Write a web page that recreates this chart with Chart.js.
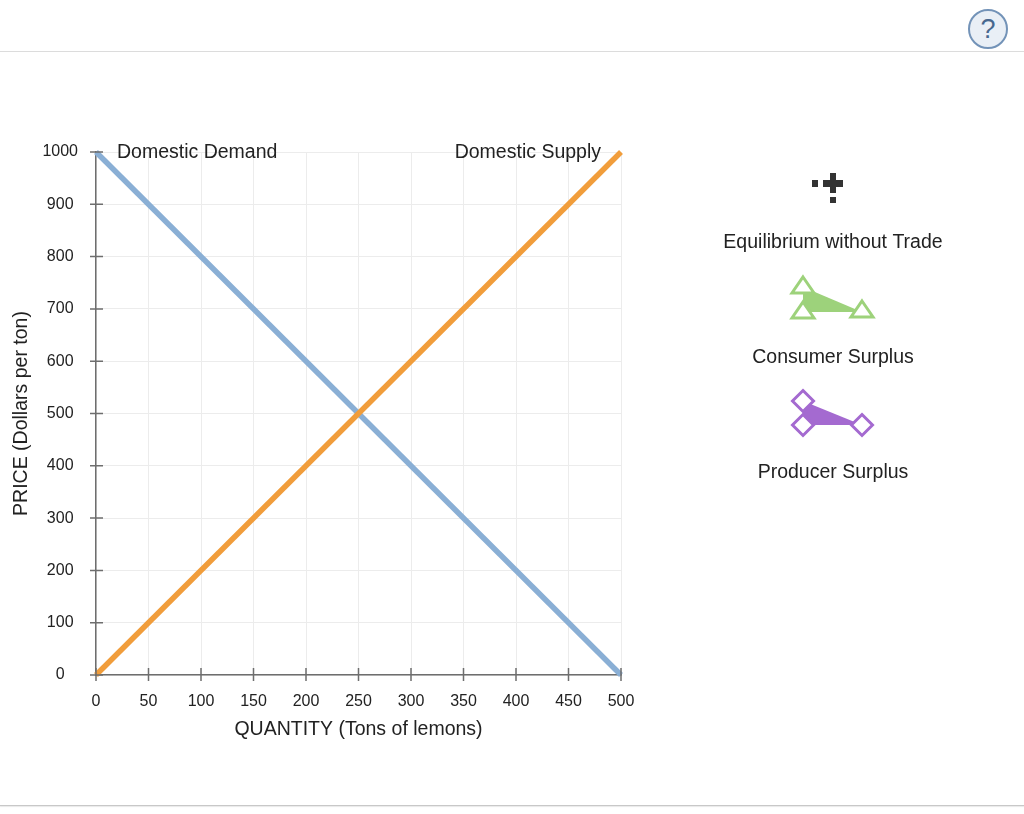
<!DOCTYPE html>
<html>
<head>
<meta charset="utf-8">
<script src="https://cdn.jsdelivr.net/npm/chart.js@4"></script>
<style>
  html, body { margin: 0; padding: 0; background: #fff; }
  body { width: 1024px; height: 814px; position: relative; overflow: hidden; font-family: "Liberation Sans", Arial, Helvetica, sans-serif; }
  #topLine { position: absolute; left: 0; top: 51px; width: 1024px; height: 1px; background: #dcdcdc; }
  #bottomLine { position: absolute; left: 0; top: 805px; width: 1024px; height: 1px; background: #c8c8c8; box-shadow: 0 1px 1px #e6e6e6; }
  #help { position: absolute; left: 968px; top: 9px; width: 36px; height: 36px; border: 2px solid #7393b8; border-radius: 50%;
          background: #e9eff6; color: #47688f; font-size: 27px; line-height: 37px; text-align: center; }
  #wrap { position: absolute; left: 0; top: 0; width: 1024px; height: 814px; }
</style>
</head>
<body>
<div id="topLine"></div>
<div id="help">?</div>
<div id="bottomLine"></div>
<div id="wrap"><canvas id="graphCanvas" width="1024" height="814"></canvas></div>
<script>
const quantities = [0, 500];
const demandPrices = [1000, 0];
const supplyPrices = [0, 1000];
const xTickValues = [0, 50, 100, 150, 200, 250, 300, 350, 400, 450, 500];
const yTickValues = [0, 100, 200, 300, 400, 500, 600, 700, 800, 900, 1000];

const FONT = "'Liberation Sans', Arial, Helvetica, sans-serif";
const TEXT_SIZE = 19.5;
const BLUE = "#8aafd5";
const ORANGE = "#f19d3b";
const GREEN = "#9dd27b";
const PURPLE = "#a46ad0";

// short tick marks that cross the axis lines
const crossTicks = {
  id: "crossTicks",
  afterDraw(chart) {
    const ctx = chart.ctx;
    const xs = chart.scales.x, ys = chart.scales.y;
    const area = chart.chartArea;
    ctx.save();
    ctx.strokeStyle = "#6e6e6e";
    ctx.lineWidth = 1.5;
    ctx.beginPath();
    yTickValues.forEach(v => {
      const y = ys.getPixelForValue(v);
      ctx.moveTo(area.left - 6, y);
      ctx.lineTo(area.left + 7, y);
    });
    xTickValues.forEach(v => {
      const x = xs.getPixelForValue(v);
      ctx.moveTo(x, area.bottom - 7);
      ctx.lineTo(x, area.bottom + 6);
    });
    ctx.stroke();
    ctx.restore();
  }
};

// curve names
const curveLabels = {
  id: "curveLabels",
  afterDatasetsDraw(chart) {
    const ctx = chart.ctx;
    const xs = chart.scales.x, ys = chart.scales.y;
    ctx.save();
    ctx.font = TEXT_SIZE + "px " + FONT;
    ctx.fillStyle = "#222";
    ctx.textBaseline = "middle";
    ctx.textAlign = "left";
    ctx.fillText("Domestic Demand", xs.getPixelForValue(0) + 21, ys.getPixelForValue(1000) + 1);
    ctx.textAlign = "right";
    ctx.fillText("Domestic Supply", xs.getPixelForValue(500) - 20, ys.getPixelForValue(1000) + 1);
    ctx.restore();
  }
};

// tool palette on the right
const palette = {
  id: "palette",
  afterDraw(chart) {
    const ctx = chart.ctx;
    ctx.save();
    // equilibrium cross
    ctx.fillStyle = "#333";
    ctx.fillRect(823, 180, 20, 7);
    ctx.fillRect(830, 173, 6, 20);
    ctx.fillRect(812, 180, 6, 7);
    ctx.fillRect(830, 197, 6, 6);

    // consumer surplus
    ctx.fillStyle = GREEN;
    ctx.beginPath();
    ctx.moveTo(803, 287); ctx.lineTo(803, 312); ctx.lineTo(862, 312);
    ctx.closePath(); ctx.fill();
    const tri = (cx, cy) => {
      ctx.beginPath();
      ctx.moveTo(cx, cy - 9); ctx.lineTo(cx + 11, cy + 7); ctx.lineTo(cx - 11, cy + 7);
      ctx.closePath();
      ctx.fillStyle = "#fff"; ctx.fill();
      ctx.strokeStyle = GREEN; ctx.lineWidth = 3; ctx.stroke();
    };
    tri(803, 286); tri(803, 311); tri(862, 310);

    // producer surplus
    ctx.fillStyle = PURPLE;
    ctx.beginPath();
    ctx.moveTo(803, 401); ctx.lineTo(803, 425); ctx.lineTo(862, 425);
    ctx.closePath(); ctx.fill();
    const dia = (cx, cy) => {
      ctx.beginPath();
      ctx.moveTo(cx, cy - 10.5); ctx.lineTo(cx + 10.5, cy); ctx.lineTo(cx, cy + 10.5); ctx.lineTo(cx - 10.5, cy);
      ctx.closePath();
      ctx.fillStyle = "#fff"; ctx.fill();
      ctx.strokeStyle = PURPLE; ctx.lineWidth = 3; ctx.stroke();
    };
    dia(803, 401); dia(803, 425); dia(862, 425);

    ctx.font = TEXT_SIZE + "px " + FONT;
    ctx.fillStyle = "#222";
    ctx.textAlign = "center";
    ctx.textBaseline = "middle";
    ctx.fillText("Equilibrium without Trade", 833, 243);
    ctx.fillText("Consumer Surplus", 833, 358);
    ctx.fillText("Producer Surplus", 833, 473);
    ctx.restore();
  }
};

new Chart(document.getElementById("graphCanvas"), {
  type: "line",
  data: {
    datasets: [
      {
        label: "Domestic Supply",
        data: quantities.map((q, i) => ({ x: q, y: supplyPrices[i] })),
        borderColor: ORANGE,
        borderWidth: 5.5,
        pointRadius: 0,
        clip: false
      },
      {
        label: "Domestic Demand",
        data: quantities.map((q, i) => ({ x: q, y: demandPrices[i] })),
        borderColor: BLUE,
        borderWidth: 5.5,
        pointRadius: 0,
        clip: false
      }
    ]
  },
  options: {
    responsive: false,
    animation: false,
    devicePixelRatio: 1,
    layout: { padding: { left: 10, top: 152, right: 403, bottom: 73 } },
    plugins: { legend: { display: false }, tooltip: { enabled: false } },
    scales: {
      x: {
        type: "linear",
        min: 0,
        max: 500,
        afterBuildTicks: s => { s.ticks = xTickValues.map(v => ({ value: v })); },
        afterFit: s => { s.height = 66; },
        grid: { color: "#ececec", lineWidth: 1, drawTicks: false },
        border: { color: "#6e6e6e", width: 1.5 },
        ticks: { color: "#222", padding: 17, maxRotation: 0, font: { family: FONT, size: 16 }, callback: v => String(v) },
        title: { display: true, text: "QUANTITY (Tons of lemons)", color: "#222", padding: 0, font: { family: FONT, size: TEXT_SIZE } }
      },
      y: {
        type: "linear",
        min: 0,
        max: 1000,
        afterBuildTicks: s => { s.ticks = yTickValues.map(v => ({ value: v })); },
        afterFit: s => { s.width = 86; },
        grid: { color: "#ececec", lineWidth: 1, drawTicks: false },
        border: { color: "#6e6e6e", width: 1.5 },
        ticks: { color: "#222", padding: 18, crossAlign: "center", font: { family: FONT, size: 16 }, callback: v => String(v) },
        title: { display: true, text: "PRICE (Dollars per ton)", color: "#222", padding: 0, font: { family: FONT, size: TEXT_SIZE } }
      }
    }
  },
  plugins: [crossTicks, curveLabels, palette]
});
</script>
</body>
</html>
